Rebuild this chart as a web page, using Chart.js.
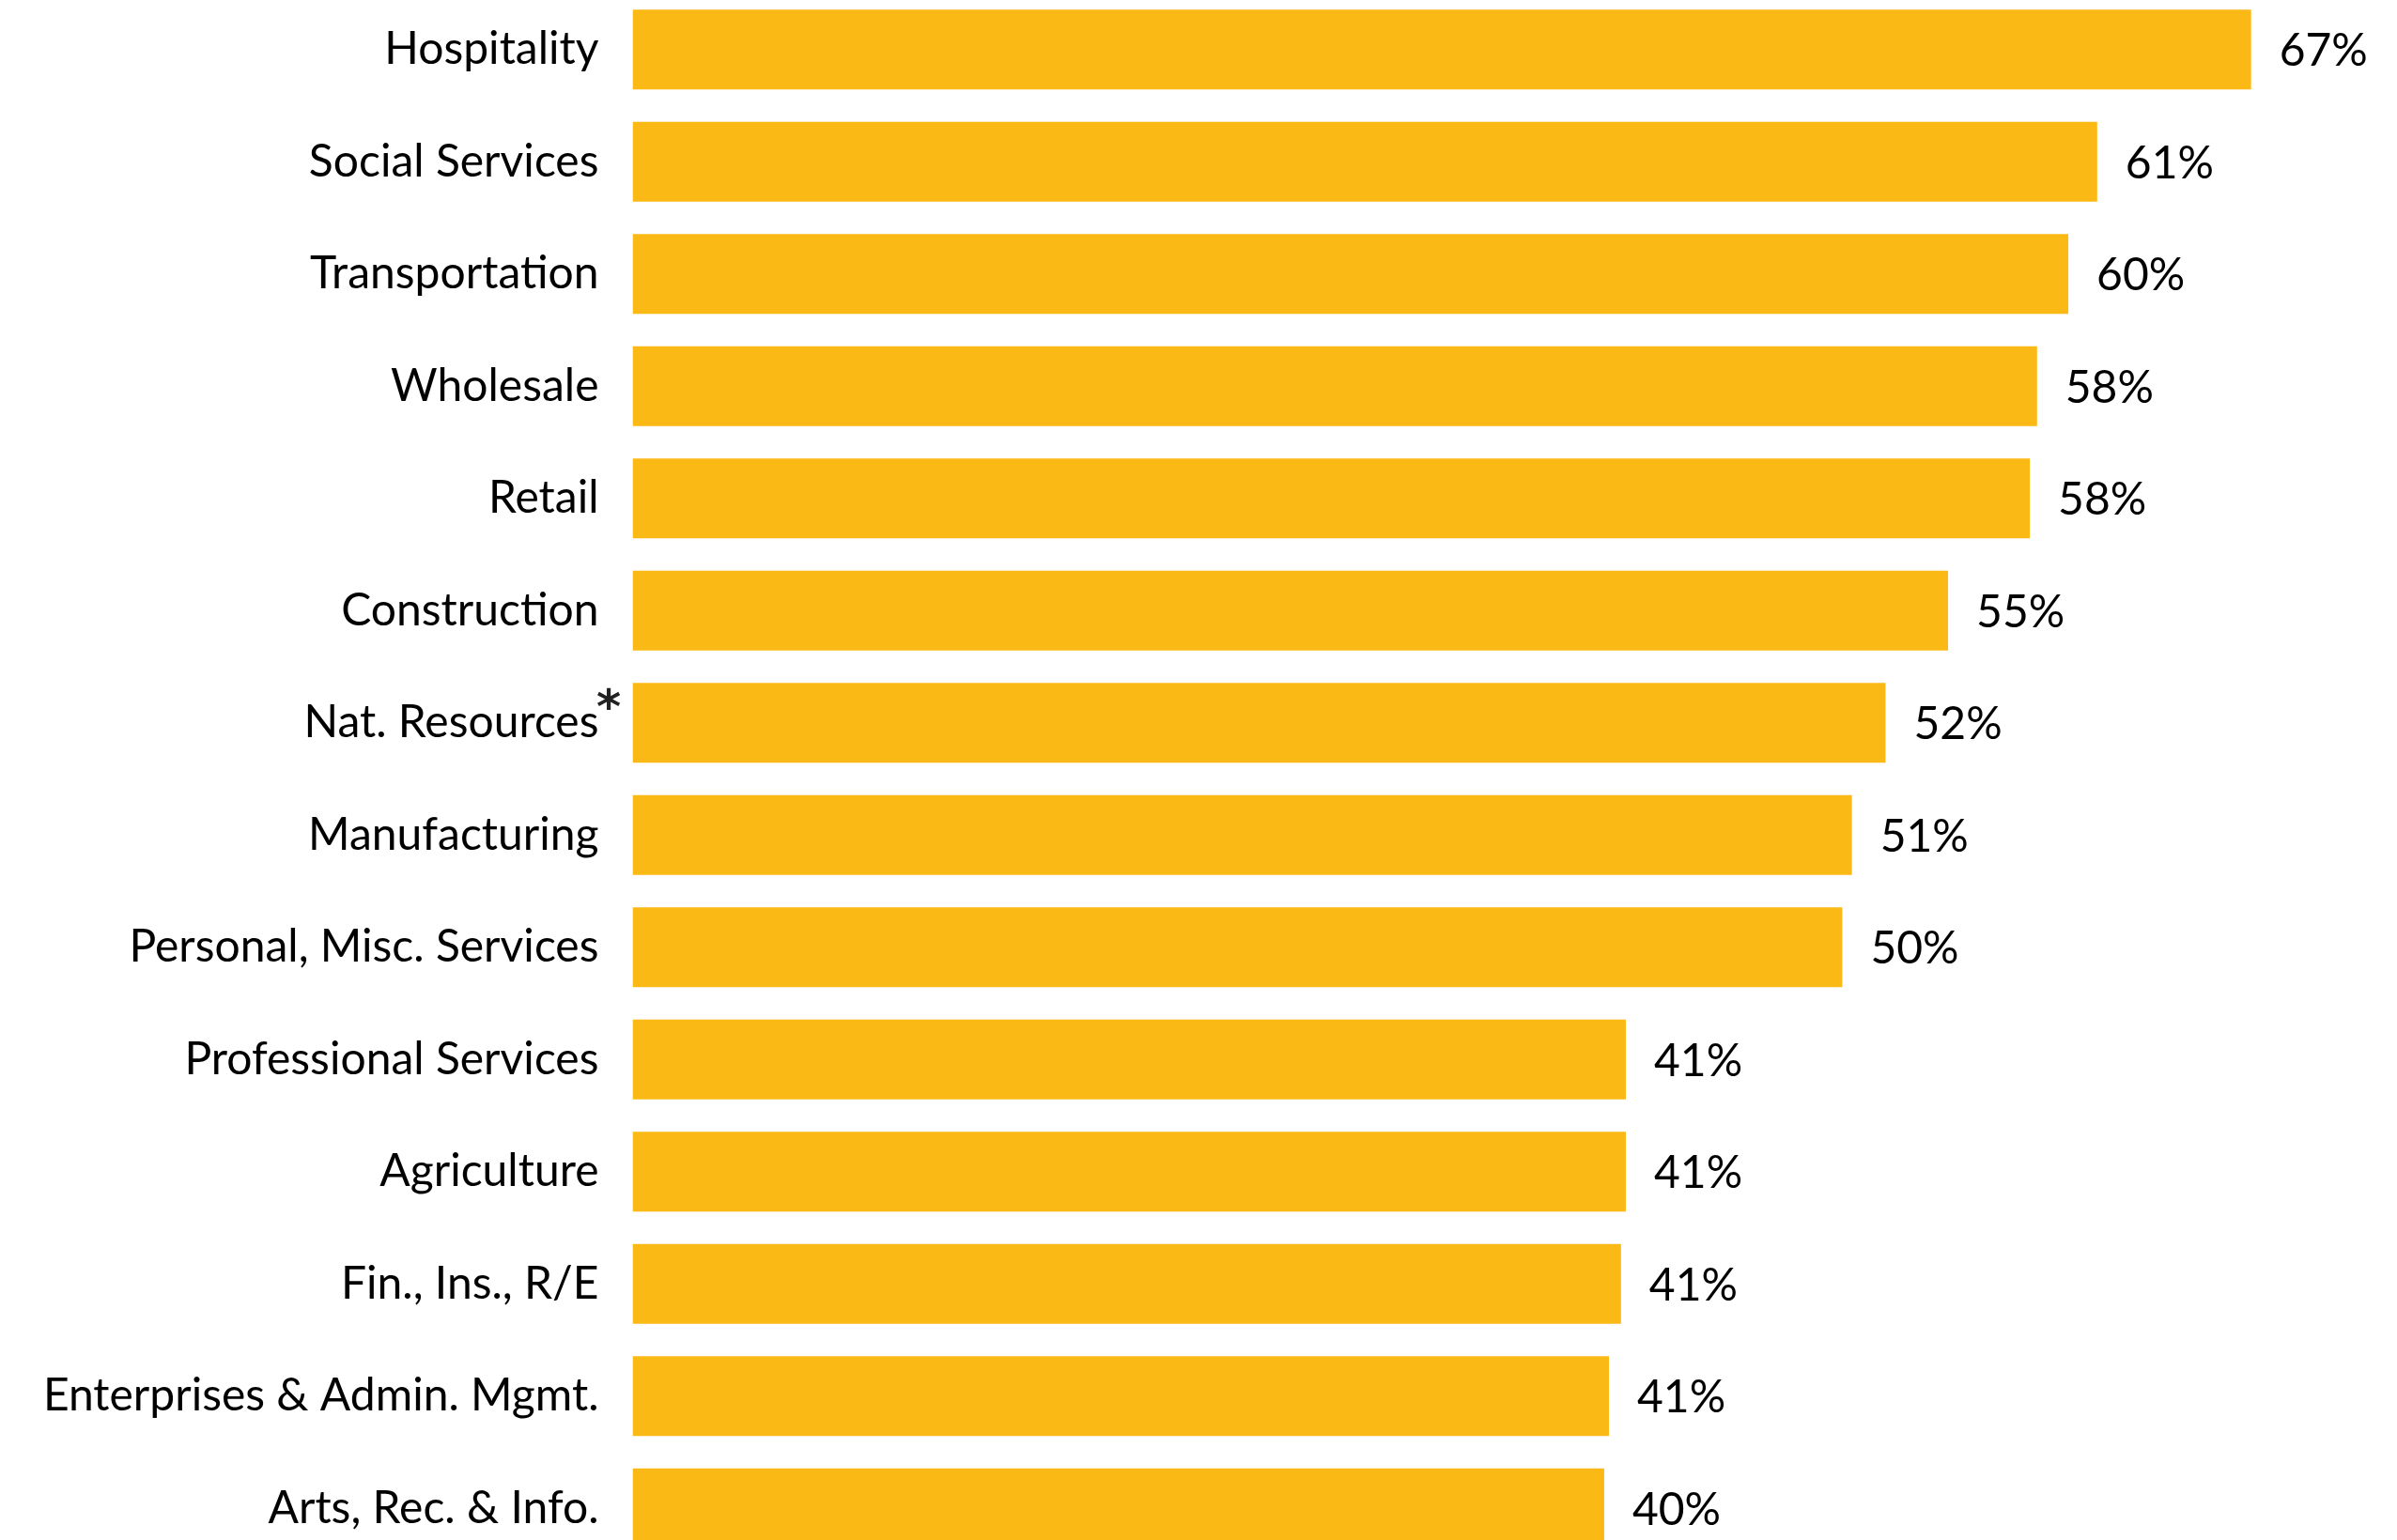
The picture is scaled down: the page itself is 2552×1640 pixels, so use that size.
<!DOCTYPE html>
<html>
<head>
<meta charset="utf-8">
<script src="https://cdn.jsdelivr.net/npm/chart.js@4"></script>
<style>
  html, body { margin: 0; padding: 0; background: #fff; overflow: hidden; }
  #wrap { position: absolute; left: 0; top: -7px; width: 2552px; height: 1673px; }
</style>
</head>
<body>
<div id="wrap"><canvas id="chart"></canvas></div>
<script>
// Share of firms by industry (bar chart, sorted)

const categories = [
  'Hospitality', 'Social Services', 'Transportation', 'Wholesale', 'Retail',
  'Construction', 'Nat. Resources', 'Manufacturing', 'Personal, Misc. Services',
  'Professional Services', 'Agriculture', 'Fin., Ins., R/E',
  'Enterprises & Admin. Mgmt.', 'Arts, Rec. & Info.',
];
const values = [67.3, 60.9, 59.7, 58.4, 58.1, 54.7, 52.1, 50.7, 50.3, 41.3, 41.3, 41.1, 40.6, 40.4];
const footnoted = ['Nat. Resources'];

const BAR_COLOR = '#FBB916';
const FONT = "Lato, 'Noto Sans', sans-serif";
const VALUE_FONT = "'Liberation Sans Narrow', Lato, sans-serif";

// value labels to the right of each bar, plus the footnote asterisk
const valueLabels = {
  id: 'valueLabels',
  afterDatasetsDraw(chart) {
    const ctx = chart.ctx;
    const meta = chart.getDatasetMeta(0);
    ctx.save();
    ctx.fillStyle = '#000';
    ctx.font = `48px ${VALUE_FONT}`;
    ctx.textAlign = 'left';
    ctx.textBaseline = 'middle';
    meta.data.forEach((bar, i) => {
      ctx.fillText(Math.round(values[i]) + '%', bar.x + 30, bar.y + 2);
    });
    // asterisk after footnoted labels
    const yScale = chart.scales.y;
    ctx.font = "bold 50px 'DejaVu Sans', sans-serif";
    ctx.fillStyle = '#222';
    ctx.textBaseline = 'alphabetic';
    footnoted.forEach(name => {
      const idx = categories.indexOf(name);
      if (idx < 0) return;
      const cy = yScale.getPixelForValue(idx) - 26;
      const m = ctx.measureText('*');
      const mid = (m.actualBoundingBoxAscent - m.actualBoundingBoxDescent) / 2;
      ctx.fillText('*', 636 + m.actualBoundingBoxLeft, cy + mid);
    });
    ctx.restore();
  },
};

new Chart(document.getElementById('chart'), {
  type: 'bar',
  data: {
    labels: categories,
    datasets: [{
      data: values,
      backgroundColor: BAR_COLOR,
      borderWidth: 0,
      barPercentage: 0.7115,
      categoryPercentage: 1,
    }],
  },
  options: {
    indexAxis: 'y',
    responsive: true,
    maintainAspectRatio: false,
    animation: false,
    layout: { padding: { left: 0, right: 35, top: 0, bottom: 0 } },
    plugins: { legend: { display: false }, tooltip: { enabled: false } },
    scales: {
      x: { display: false, min: 0, max: 72 },
      y: {
        grid: { display: false, drawTicks: false },
        border: { display: false },
        ticks: { color: '#000', padding: 36, font: { family: FONT, size: 48 } },
        afterFit: s => { s.width = 673.5; s.paddingTop = 0; s.paddingBottom = 0; },
      },
    },
  },
  plugins: [valueLabels],
});
</script>
</body>
</html>
